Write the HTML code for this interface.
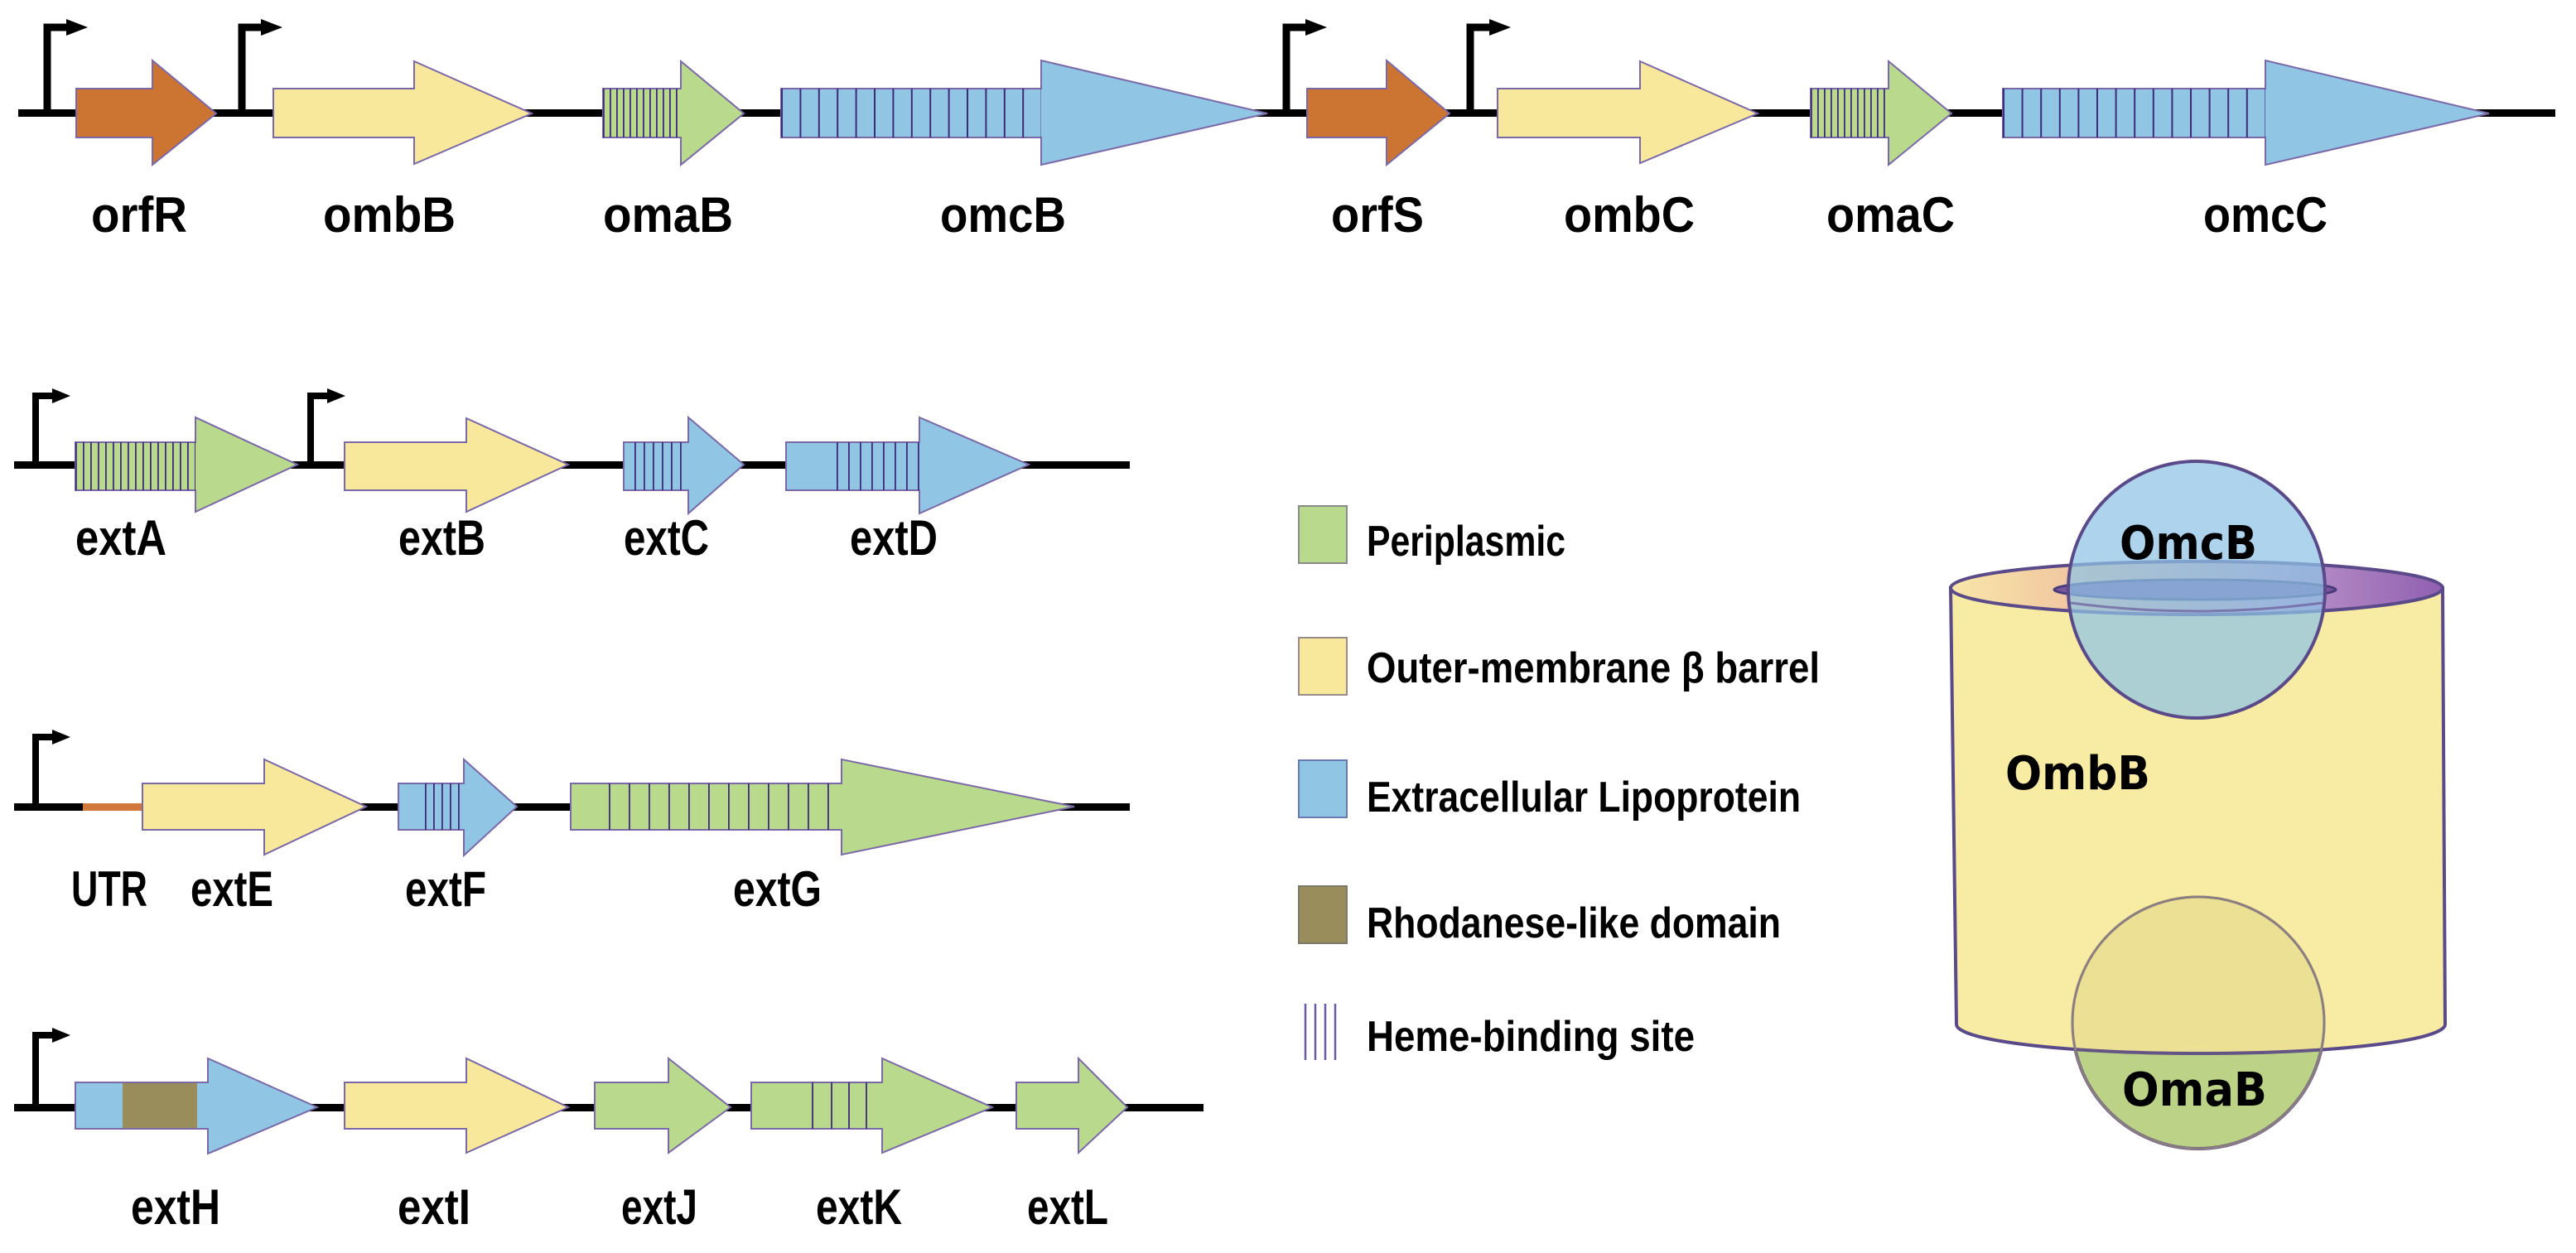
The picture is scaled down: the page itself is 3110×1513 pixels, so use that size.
<!DOCTYPE html>
<html><head><meta charset="utf-8"><style>
html,body{margin:0;padding:0;background:#fff;}
svg{display:block;}
.g{font-family:"Liberation Sans",sans-serif;font-weight:bold;font-size:60px;fill:#000;}
.l{font-family:"Liberation Sans","DejaVu Sans",sans-serif;font-weight:bold;font-size:52px;fill:#000;}
.c{font-family:"DejaVu Sans","Liberation Sans",sans-serif;font-weight:bold;font-size:56px;fill:#000;}
</style></head><body>
<svg width="3110" height="1513" viewBox="0 0 3110 1513" xmlns="http://www.w3.org/2000/svg">
<defs>
<pattern id="p8a" x="728" y="0" width="8" height="10" patternUnits="userSpaceOnUse"><rect x="0" y="0" width="1.8" height="10" fill="#3c2a7a"/></pattern>
<pattern id="p22a" x="943" y="0" width="22.4" height="10" patternUnits="userSpaceOnUse"><rect x="0" y="0" width="2" height="10" fill="#3c2a7a"/></pattern>
<pattern id="p8b" x="2186" y="0" width="8" height="10" patternUnits="userSpaceOnUse"><rect x="0" y="0" width="1.8" height="10" fill="#3c2a7a"/></pattern>
<pattern id="p22b" x="2418" y="0" width="22.6" height="10" patternUnits="userSpaceOnUse"><rect x="0" y="0" width="2" height="10" fill="#3c2a7a"/></pattern>
<pattern id="pA" x="91" y="0" width="9" height="10" patternUnits="userSpaceOnUse"><rect x="0" y="0" width="1.8" height="10" fill="#3c2a7a"/></pattern>
<pattern id="pC" x="766" y="0" width="11" height="10" patternUnits="userSpaceOnUse"><rect x="0" y="0" width="1.8" height="10" fill="#3c2a7a"/></pattern>
<pattern id="pD" x="1010" y="0" width="14" height="10" patternUnits="userSpaceOnUse"><rect x="0" y="0" width="1.8" height="10" fill="#3c2a7a"/></pattern>
<pattern id="pF" x="503" y="0" width="10" height="10" patternUnits="userSpaceOnUse"><rect x="0" y="0" width="1.8" height="10" fill="#3c2a7a"/></pattern>
<pattern id="pG" x="735" y="0" width="24" height="10" patternUnits="userSpaceOnUse"><rect x="0" y="0" width="1.8" height="10" fill="#3c2a7a"/></pattern>
<linearGradient id="topg" x1="0" x2="1" y1="0" y2="0">
<stop offset="0" stop-color="#f8e6a8"/><stop offset="0.3" stop-color="#f0c0a0"/><stop offset="0.7" stop-color="#b890c8"/><stop offset="1" stop-color="#9060b0"/>
</linearGradient>
</defs>

<!-- ROW 1 -->
<rect x="22" y="132" width="3063" height="9" fill="#000"/>
<g fill="none" stroke="#000" stroke-width="9"><path d="M57 137V33H82"/><path d="M292 137V33H317"/><path d="M1553 137V33H1578"/><path d="M1775 137V33H1800"/></g>
<g fill="#000"><path d="M80 23L106 33L80 43Z"/><path d="M315 23L341 33L315 43Z"/><path d="M1576 23L1602 33L1576 43Z"/><path d="M1798 23L1824 33L1798 43Z"/></g>
<g stroke="#7a68a8" stroke-width="2">
<path d="M92 107H184V73L261 137L184 199V166H92Z" fill="#cc7533"/>
<path d="M330 107H500V74L642 137L500 198V166H330Z" fill="#f8e89c"/>
<path d="M728 107H822V74L898 137L822 199V166H728Z" fill="#b9d98c"/>
<rect x="728" y="107" width="94" height="59" fill="url(#p8a)" stroke="none"/>
<path d="M943 107H1257V73L1530 137L1257 199V166H943Z" fill="#90c6e4"/>
<rect x="943" y="107" width="314" height="59" fill="url(#p22a)" stroke="none"/>
<path d="M1578 107H1674V73L1750 137L1674 199V166H1578Z" fill="#cc7533"/>
<path d="M1808 107H1980V74L2122 137L1980 197V166H1808Z" fill="#f8e89c"/>
<path d="M2186 107H2280V74L2356 137L2280 199V166H2186Z" fill="#b9d98c"/>
<rect x="2186" y="107" width="94" height="59" fill="url(#p8b)" stroke="none"/>
<path d="M2418 107H2735V73L3005 137L2735 199V166H2418Z" fill="#90c6e4"/>
<rect x="2418" y="107" width="317" height="59" fill="url(#p22b)" stroke="none"/>
</g>
<g class="g">
<text x="110" y="280" textLength="116" lengthAdjust="spacingAndGlyphs">orfR</text>
<text x="390" y="280" textLength="160" lengthAdjust="spacingAndGlyphs">ombB</text>
<text x="728" y="280" textLength="157" lengthAdjust="spacingAndGlyphs">omaB</text>
<text x="1135" y="280" textLength="152" lengthAdjust="spacingAndGlyphs">omcB</text>
<text x="1607" y="280" textLength="112" lengthAdjust="spacingAndGlyphs">orfS</text>
<text x="1888" y="280" textLength="158" lengthAdjust="spacingAndGlyphs">ombC</text>
<text x="2205" y="280" textLength="155" lengthAdjust="spacingAndGlyphs">omaC</text>
<text x="2660" y="280" textLength="150" lengthAdjust="spacingAndGlyphs">omcC</text>
</g>

<!-- ROW 2 -->
<rect x="17" y="557" width="1347" height="9" fill="#000"/>
<g fill="none" stroke="#000" stroke-width="8"><path d="M43 561V478H65"/><path d="M375 561V478H397"/></g>
<g fill="#000"><path d="M63 469L85 478L63 487Z"/><path d="M395 469L417 478L395 487Z"/></g>
<g stroke="#7a68a8" stroke-width="2">
<path d="M91 534H236V504L359 561L236 618V592H91Z" fill="#b9d98c"/>
<rect x="91" y="534" width="145" height="58" fill="url(#pA)" stroke="none"/>
<path d="M416 534H563V505L686 561L563 618V592H416Z" fill="#f8e89c"/>
<path d="M753 534H831V504L898 561L831 620V592H753Z" fill="#90c6e4"/>
<rect x="766" y="534" width="65" height="58" fill="url(#pC)" stroke="none"/>
<path d="M949 534H1110V504L1242 561L1110 620V592H949Z" fill="#90c6e4"/>
<rect x="1010" y="534" width="100" height="58" fill="url(#pD)" stroke="none"/>
</g>
<g class="g">
<text x="91" y="670" textLength="110" lengthAdjust="spacingAndGlyphs">extA</text>
<text x="481" y="670" textLength="105" lengthAdjust="spacingAndGlyphs">extB</text>
<text x="753" y="670" textLength="103" lengthAdjust="spacingAndGlyphs">extC</text>
<text x="1026" y="670" textLength="106" lengthAdjust="spacingAndGlyphs">extD</text>
</g>

<!-- ROW 3 -->
<rect x="17" y="970" width="1347" height="9" fill="#000"/>
<rect x="100" y="970" width="72" height="9" fill="#d0793a"/>
<path d="M43 974V890H65" fill="none" stroke="#000" stroke-width="8"/>
<path d="M63 881L85 890L63 899Z" fill="#000"/>
<g stroke="#7a68a8" stroke-width="2">
<path d="M172 946H319V917L442 974L319 1032V1002H172Z" fill="#f8e89c"/>
<path d="M481 946H560V917L624 974L560 1033V1002H481Z" fill="#90c6e4"/>
<rect x="507" y="946" width="53" height="56" fill="url(#pF)" stroke="none"/>
<path d="M689 946H1016V917L1297 974L1016 1032V1002H689Z" fill="#b9d98c"/>
<rect x="735" y="946" width="281" height="56" fill="url(#pG)" stroke="none"/>
</g>
<g class="g">
<text x="86" y="1094" textLength="92" lengthAdjust="spacingAndGlyphs">UTR</text>
<text x="230" y="1094" textLength="100" lengthAdjust="spacingAndGlyphs">extE</text>
<text x="489" y="1094" textLength="98" lengthAdjust="spacingAndGlyphs">extF</text>
<text x="885" y="1094" textLength="107" lengthAdjust="spacingAndGlyphs">extG</text>
</g>

<!-- ROW 4 -->
<rect x="17" y="1333" width="1436" height="9" fill="#000"/>
<path d="M43 1337V1250H65" fill="none" stroke="#000" stroke-width="8"/>
<path d="M63 1241L85 1250L63 1259Z" fill="#000"/>
<g stroke="#7a68a8" stroke-width="2">
<path d="M91 1307H251V1278L383 1337L251 1393V1363H91Z" fill="#90c6e4"/>
<rect x="148" y="1308" width="90" height="54" fill="#9a8d5c" stroke="none"/>
<path d="M416 1307H563V1278L686 1337L563 1392V1363H416Z" fill="#f8e89c"/>
<path d="M718 1307H807V1278L882 1337L807 1392V1363H718Z" fill="#b9d98c"/>
<path d="M907 1307H1065V1278L1198 1337L1065 1392V1363H907Z" fill="#b9d98c"/>
<path d="M1227 1307H1302V1278L1361 1337L1302 1392V1363H1227Z" fill="#b9d98c"/>
</g>
<g stroke="#3c2a7a" stroke-width="1.8"><path d="M981 1307V1363M1004 1307V1363M1025 1307V1363M1046 1307V1363"/></g>
<g class="g">
<text x="158" y="1478" textLength="108" lengthAdjust="spacingAndGlyphs">extH</text>
<text x="480" y="1478" textLength="88" lengthAdjust="spacingAndGlyphs">extI</text>
<text x="750" y="1478" textLength="92" lengthAdjust="spacingAndGlyphs">extJ</text>
<text x="985" y="1478" textLength="104" lengthAdjust="spacingAndGlyphs">extK</text>
<text x="1240" y="1478" textLength="98" lengthAdjust="spacingAndGlyphs">extL</text>
</g>

<!-- LEGEND -->
<g stroke-width="2">
<rect x="1568" y="611" width="58" height="69" fill="#b9d98c" stroke="#8a8a8a"/>
<rect x="1568" y="770" width="58" height="69" fill="#f8e89c" stroke="#9a8a8a"/>
<rect x="1568" y="918" width="58" height="69" fill="#90c6e4" stroke="#6a7ab0"/>
<rect x="1568" y="1070" width="58" height="69" fill="#9a8d5c" stroke="#7a7a6a"/>
</g>
<g stroke="#6a5aa0" stroke-width="2.5"><path d="M1576 1212V1280M1588 1212V1280M1600 1212V1280M1612 1212V1280"/></g>
<g class="l">
<text x="1650" y="671" textLength="240" lengthAdjust="spacingAndGlyphs">Periplasmic</text>
<text x="1650" y="824" textLength="547" lengthAdjust="spacingAndGlyphs">Outer-membrane β barrel</text>
<text x="1650" y="980" textLength="524" lengthAdjust="spacingAndGlyphs">Extracellular Lipoprotein</text>
<text x="1650" y="1132" textLength="500" lengthAdjust="spacingAndGlyphs">Rhodanese-like domain</text>
<text x="1650" y="1269" textLength="396" lengthAdjust="spacingAndGlyphs">Heme-binding site</text>
</g>

<!-- CYLINDER -->
<circle cx="2654" cy="1235" r="152" fill="#bcd98c" stroke="#5a4a8a" stroke-width="4"/>
<path d="M2355 710 L2362 1237 A295 35 0 0 0 2952 1237 L2949 710 Z" fill="#f8e99c" fill-opacity="0.93" stroke="#5a4a8a" stroke-width="4"/>
<circle cx="2654" cy="1235" r="152" fill="#b8a860" fill-opacity="0.12" stroke="#8a7e80" stroke-width="3"/>
<ellipse cx="2652" cy="710" rx="297" ry="32" fill="url(#topg)" stroke="#5a4a8a" stroke-width="4"/>
<ellipse cx="2650" cy="712" rx="170" ry="12" fill="#7a55a0" stroke="#4a3a7a" stroke-width="3"/>
<circle cx="2652" cy="712" r="155" fill="#8ec3e4" fill-opacity="0.72" stroke="#5a4a8a" stroke-width="4"/>
<path d="M2500 728 Q2652 748 2804 728" fill="none" stroke="#6a5a9a" stroke-width="3" opacity="0.7"/>
<g class="c">
<text x="2559" y="675" textLength="166" lengthAdjust="spacingAndGlyphs">OmcB</text>
<text x="2421" y="953" textLength="175" lengthAdjust="spacingAndGlyphs">OmbB</text>
<text x="2562" y="1335" textLength="175" lengthAdjust="spacingAndGlyphs">OmaB</text>
</g>
</svg>
</body></html>
